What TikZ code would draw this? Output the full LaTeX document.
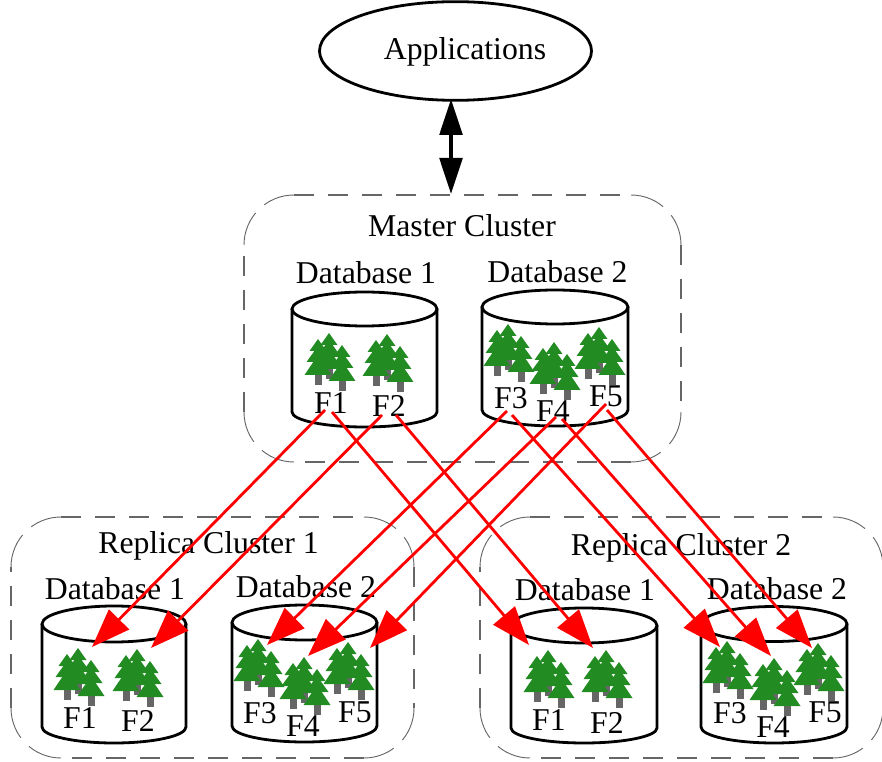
\documentclass[tikz,border=0pt]{standalone}
\usepackage{fontspec}
\setmainfont{Liberation Serif}
\usetikzlibrary{arrows.meta,shapes.geometric}
\definecolor{treegreen}{HTML}{228B22}
\definecolor{trunkgray}{HTML}{666666}
\definecolor{dashgray}{HTML}{666666}
\tikzset{
  lbl/.style={inner sep=0pt,font=\fontsize{23.8}{26}\selectfont,text=black},
  cylline/.style={draw=black,line width=2.1pt},
  clusterside/.style={draw=dashgray,line width=1.4pt,dash pattern=on 15pt off 10.5pt},
  clustercorner/.style={draw=dashgray,line width=0.7pt,dash pattern=on 26pt off 9pt},
  redarrow/.style={draw=red,line width=2.1pt,-{Triangle[length=29pt,width=21pt]}},
  blackarrow/.style={draw=black,line width=2.6pt,{Triangle[length=27pt,width=17pt]}-{Triangle[length=27pt,width=17pt]}},
  onetree/.pic={
    \fill[trunkgray] (-3.5,30) rectangle (3.5,46);
    \fill[treegreen] (0,0) -- (8.5,12) -- (-8.5,12) -- cycle;
    \fill[treegreen] (0,7) -- (11.5,23) -- (-11.5,23) -- cycle;
    \fill[treegreen] (0,16) -- (13.5,36) -- (-13.5,36) -- cycle;
  },
  treegroup/.pic={
    \pic at (11,-6) {onetree};
    \pic at (0,0) {onetree};
    \pic at (24,6) {onetree};
  }
}
% left, right, centre y, ry, side bottom y, bottom ry
\newcommand{\dbcyl}[6]{%
  \draw[cylline] ({(#1+#2)/2},#3) ellipse [x radius={(#2-#1)/2},y radius=#4];
  \draw[cylline] (#1,#3) -- (#1,#5) arc[start angle=180,end angle=0,x radius={(#2-#1)/2},y radius=#6] -- (#2,#3);
}
% left, top, right, bottom
\newcommand{\clusterbox}[4]{%
  \draw[clusterside] ({#1+50},#2) -- ({#3-50},#2);
  \draw[clusterside] (#3,{#2+50}) -- (#3,{#4-50});
  \draw[clusterside] ({#3-50},#4) -- ({#1+50},#4);
  \draw[clusterside] (#1,{#4-50}) -- (#1,{#2+50});
  \draw[clustercorner] (#1,{#2+50}) arc[start angle=180,end angle=270,radius=50];
  \draw[clustercorner] ({#3-50},#2) arc[start angle=270,end angle=360,radius=50];
  \draw[clustercorner] (#3,{#4-50}) arc[start angle=0,end angle=90,radius=50];
  \draw[clustercorner] ({#1+50},#4) arc[start angle=90,end angle=180,radius=50];
}
\begin{document}
\begin{tikzpicture}[x=0.75pt,y=-0.75pt]
\useasboundingbox (0,0) rectangle (882,762);
\clip (0,0) rectangle (882,762);

% Applications
\node[ellipse,draw=black,line width=2.1pt,minimum width=204pt,minimum height=74pt,inner sep=0pt] (app) at (455.5,51) {};
\node[lbl] (applbl) at (465,52) {Applications};

% Clusters
\clusterbox{244}{195}{681}{462}
\clusterbox{11}{517}{414}{758}
\clusterbox{480}{517}{883}{758}

\node[lbl] (mtitle) at (462,226) {Master Cluster};
\node[lbl] (r1title) at (208.5,546) {Replica Cluster 1};
\node[lbl] (r2title) at (681,548) {Replica Cluster 2};

% Database captions
\node[lbl] (mdb1) at (366,273) {Database 1};
\node[lbl] (mdb2) at (557.5,272) {Database 2};
\node[lbl] (r1db1) at (115,589) {Database 1};
\node[lbl] (r1db2) at (306,587) {Database 2};
\node[lbl] (r2db1) at (585,590) {Database 1};
\node[lbl] (r2db2) at (777,589) {Database 2};

% Cylinders
\dbcyl{292}{437}{309}{17}{412}{15}
\dbcyl{482}{628}{307}{17}{410}{16}
\dbcyl{42}{186}{624}{18}{727}{16}
\dbcyl{232}{377}{622.5}{17.5}{726}{16}
\dbcyl{511}{657}{625.5}{17.5}{728}{15}
\dbcyl{701}{847}{624}{17.5}{727}{16}

% Trees
\pic at (318,339) {treegroup};
\pic at (376,340) {treegroup};
\pic at (497,330) {treegroup};
\pic at (543,348) {treegroup};
\pic at (588,333) {treegroup};
\pic at (67,654) {treegroup};
\pic at (126,655) {treegroup};
\pic at (247,645) {treegroup};
\pic at (293,663) {treegroup};
\pic at (337,648) {treegroup};
\pic at (537,656) {treegroup};
\pic at (595,656) {treegroup};
\pic at (716,647) {treegroup};
\pic at (763,664) {treegroup};
\pic at (807,649) {treegroup};

% Forest labels
\node[lbl] (mF1) at (331,403) {F1};
\node[lbl] (mF2) at (389,406) {F2};
\node[lbl] (mF3) at (511,398) {F3};
\node[lbl] (mF4) at (553,411) {F4};
\node[lbl] (mF5) at (606,396) {F5};
\node[lbl] (aF1) at (80,718) {F1};
\node[lbl] (aF2) at (138,721) {F2};
\node[lbl] (aF3) at (260,713) {F3};
\node[lbl] (aF4) at (303,726) {F4};
\node[lbl] (aF5) at (355,712) {F5};
\node[lbl] (bF1) at (549,720) {F1};
\node[lbl] (bF2) at (607,723) {F2};
\node[lbl] (bF3) at (730,713) {F3};
\node[lbl] (bF4) at (773,727) {F4};
\node[lbl] (bF5) at (825,712) {F5};

% Connector ends
\coordinate (appPort) at (451,99);
\coordinate (masterPort) at (451,194);
\coordinate (sF1a) at (325,410); \coordinate (sF1b) at (332,412);
\coordinate (sF2a) at (382,415); \coordinate (sF2b) at (396,415);
\coordinate (sF3a) at (507,411); \coordinate (sF3b) at (512,415);
\coordinate (sF4a) at (556,417); \coordinate (sF4b) at (562,419);
\coordinate (sF5a) at (606,404); \coordinate (sF5b) at (607,410);
\coordinate (tA1) at (92,647);  \coordinate (tA2) at (151,648);
\coordinate (tA3) at (267,645); \coordinate (tA4) at (308,656); \coordinate (tA5) at (370,648);
\coordinate (tB1) at (529,645); \coordinate (tB2) at (593,648);
\coordinate (tB3) at (720,647); \coordinate (tB4) at (771,656); \coordinate (tB5) at (812,648);

% Connectors
\draw[blackarrow] (appPort) -- (masterPort);
\draw[redarrow] (sF1a) -- (tA1);
\draw[redarrow] (sF2a) -- (tA2);
\draw[redarrow] (sF3a) -- (tA3);
\draw[redarrow] (sF4a) -- (tA4);
\draw[redarrow] (sF5a) -- (tA5);
\draw[redarrow] (sF1b) -- (tB1);
\draw[redarrow] (sF2b) -- (tB2);
\draw[redarrow] (sF3b) -- (tB3);
\draw[redarrow] (sF4b) -- (tB4);
\draw[redarrow] (sF5b) -- (tB5);
\end{tikzpicture}
\end{document}
